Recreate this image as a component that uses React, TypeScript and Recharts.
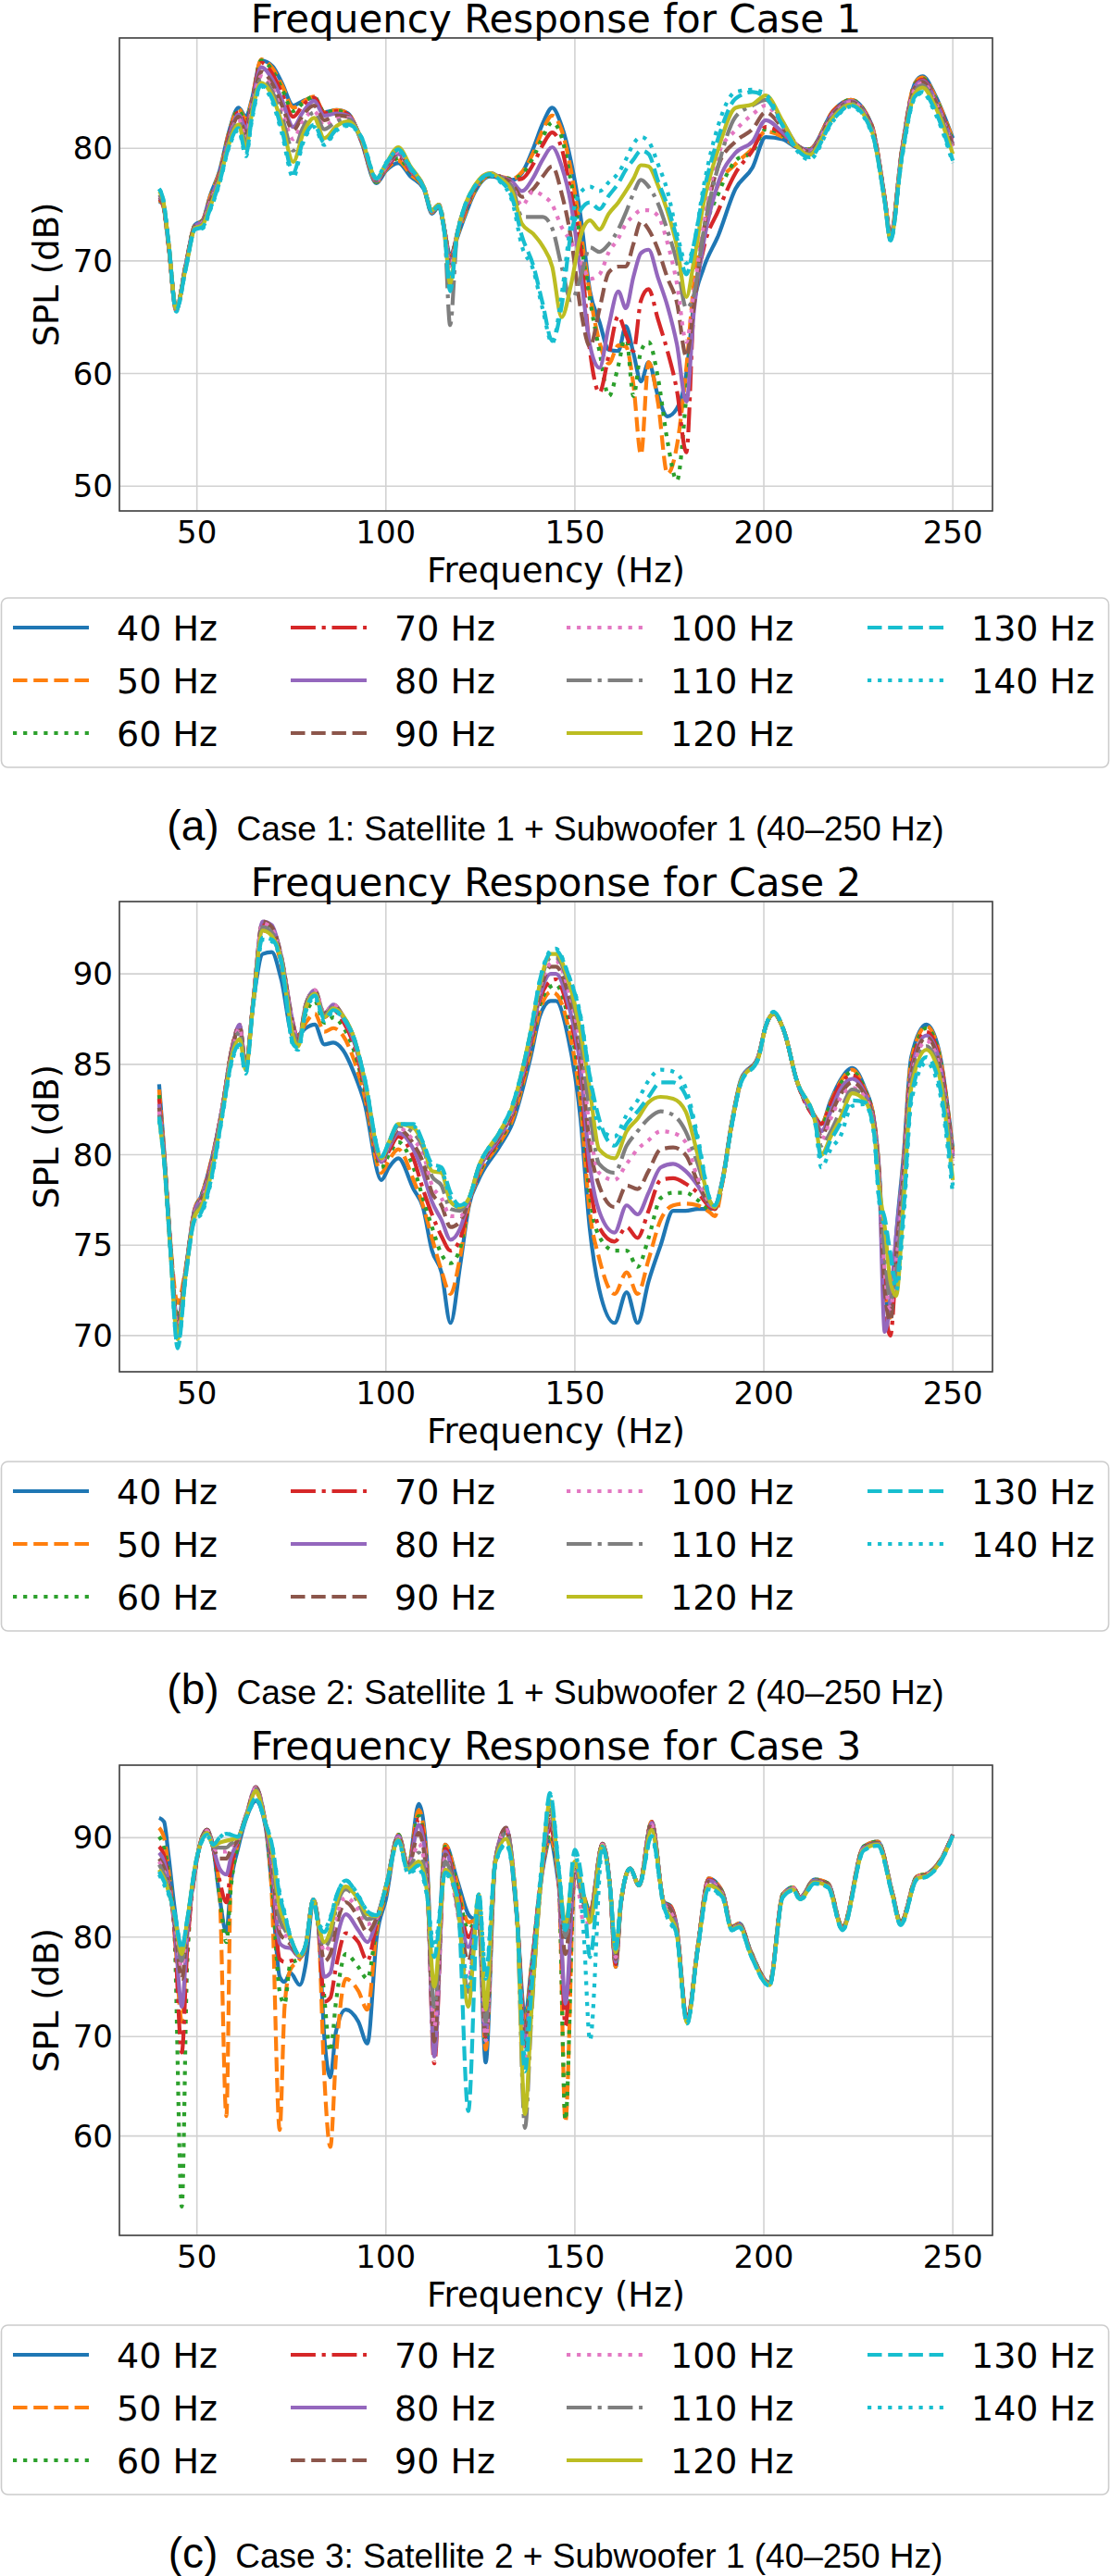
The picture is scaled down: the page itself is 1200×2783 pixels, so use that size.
import React from "react";
import { LineChart, Line, XAxis, YAxis, CartesianGrid } from "recharts";

// three stacked frequency-response plots (matplotlib look), one per loudspeaker case

const FONT = "DejaVu Sans";
const CAPTION_FONT = "Liberation Sans";

const seriesNames = ["40 Hz", "50 Hz", "60 Hz", "70 Hz", "80 Hz", "90 Hz", "100 Hz", "110 Hz", "120 Hz", "130 Hz", "140 Hz"];
const seriesColors = ["#1f77b4", "#ff7f0e", "#2ca02c", "#d62728", "#9467bd", "#8c564b", "#e377c2", "#7f7f7f", "#bcbd22", "#17becf", "#17becf"];
// solid, dashed, dotted, dashdot ... (matplotlib cycle, scaled by line width)
const seriesDashes = [undefined, "15.5 6.7", "4.2 6.9", "26.9 6.7 4.2 6.7", undefined, "15.5 6.7", "4.2 6.9", "26.9 6.7 4.2 6.7", undefined, "15.5 6.7", "4.2 6.9"];

const xTicks = [50, 100, 150, 200, 250];
const yTicksCase1 = [50, 60, 70, 80];
const yTicksCase2 = [70, 75, 80, 85, 90];
const yTicksCase3 = [60, 70, 80, 90];

/* ---------- Case 1 ---------- */
const freqCase1 = [40, 41, 42.5, 44.5, 47, 49.5, 51.5, 53.5, 56, 58.5, 61, 63, 64.5, 67, 70, 72.5, 75.5, 78, 81, 83.7, 87, 90, 93.5, 97.5, 100, 103.3, 106.5, 110, 112.2, 114, 115.5, 117, 118.8, 120.5, 123.5, 127.5, 130, 133.5, 136, 139, 141.5, 144, 146.5, 149, 151.5, 154, 156.5, 159, 161.5, 163.5, 165.5, 167.5, 169.5, 172, 174.5, 177, 179.5, 181.5, 184, 188, 192.5, 197, 200.5, 205, 208.5, 212, 218.5, 223, 228.5, 232, 233.5, 236.5, 240, 242, 245.5, 250];

const case1Hz40 = [75.3, 75.0, 71.3, 65.6, 69.6, 73.2, 73.6, 75.8, 78.0, 81.5, 83.6, 82.8, 84.3, 87.8, 87.3, 85.8, 83.8, 84.2, 84.5, 83.2, 83.4, 83.1, 80.6, 76.9, 78.0, 78.7, 77.5, 76.4, 74.2, 74.8, 72.7, 70.5, 72.0, 73.6, 76.1, 77.5, 77.4, 77.2, 77.8, 80.0, 82.2, 83.6, 82.0, 78.8, 74.0, 67.3, 64.6, 62.1, 62.0, 64.2, 61.8, 59.3, 61.0, 58.0, 56.2, 56.9, 60.0, 66.2, 69.3, 72.3, 76.4, 78.3, 81.0, 80.8, 80.1, 79.9, 83.4, 84.3, 82.1, 75.6, 72.3, 79.8, 85.8, 86.4, 84.6, 80.9];
const case1Hz50 = [75.4, 75.0, 71.3, 65.6, 69.6, 73.2, 73.6, 75.7, 77.9, 81.4, 83.5, 82.6, 84.2, 87.9, 87.1, 85.6, 83.6, 84.1, 84.6, 83.2, 83.4, 83.1, 80.7, 77.0, 78.1, 78.9, 77.7, 76.5, 74.3, 74.9, 72.8, 70.3, 72.1, 73.8, 76.2, 77.6, 77.5, 77.3, 77.9, 79.6, 81.6, 82.9, 81.6, 78.0, 72.7, 67.0, 62.8, 60.9, 62.5, 62.4, 59.0, 52.8, 61.0, 57.4, 51.1, 53.6, 60.5, 68.0, 72.5, 76.8, 78.6, 80.0, 81.5, 81.0, 80.2, 79.9, 83.4, 84.3, 82.1, 75.6, 72.3, 79.8, 85.8, 86.3, 84.5, 80.8];
const case1Hz60 = [75.5, 75.1, 71.4, 65.7, 69.6, 73.2, 73.6, 75.6, 77.8, 81.3, 83.4, 82.4, 84.1, 87.8, 86.9, 85.3, 83.3, 84.0, 84.6, 83.2, 83.3, 83.0, 80.7, 77.0, 78.2, 79.1, 77.9, 76.5, 74.3, 74.9, 72.8, 70.2, 72.2, 74.0, 76.3, 77.6, 77.5, 77.3, 77.7, 79.2, 81.0, 82.3, 81.0, 77.0, 71.8, 66.5, 62.0, 58.0, 60.7, 63.5, 58.0, 62.0, 62.8, 59.6, 54.0, 50.5, 58.0, 66.0, 72.0, 76.0, 78.9, 79.7, 81.7, 81.2, 80.2, 79.9, 83.3, 84.3, 82.0, 75.5, 72.2, 79.7, 85.7, 86.2, 84.4, 80.6];
const case1Hz70 = [75.5, 75.1, 71.4, 65.7, 69.5, 73.1, 73.5, 75.5, 77.7, 81.2, 83.2, 82.1, 84.0, 87.6, 86.6, 84.9, 82.8, 83.8, 84.5, 83.1, 83.3, 83.0, 80.7, 77.1, 78.2, 79.3, 78.0, 76.6, 74.4, 74.9, 72.8, 70.0, 72.3, 74.1, 76.4, 77.7, 77.5, 77.2, 77.3, 78.6, 80.3, 81.4, 80.0, 76.0, 71.2, 62.0, 58.3, 61.7, 65.1, 63.5, 62.0, 66.5, 67.5, 64.8, 62.0, 58.5, 53.0, 66.0, 71.0, 74.5, 77.8, 79.8, 81.9, 81.3, 80.3, 79.8, 83.3, 84.2, 82.0, 75.5, 72.2, 79.7, 85.6, 86.1, 84.3, 80.5];
const case1Hz80 = [75.6, 75.2, 71.5, 65.7, 69.5, 73.1, 73.5, 75.4, 77.6, 81.0, 83.0, 81.7, 83.8, 87.2, 86.1, 84.3, 81.9, 83.2, 84.2, 82.9, 83.1, 82.9, 80.8, 77.1, 78.3, 79.5, 78.1, 76.6, 74.4, 74.9, 72.8, 69.8, 72.3, 74.2, 76.5, 77.7, 77.5, 77.0, 76.2, 77.4, 79.0, 80.1, 78.4, 75.0, 69.0, 62.5, 60.5, 64.3, 67.3, 65.8, 68.6, 70.7, 71.0, 68.5, 66.0, 62.6, 57.5, 65.5, 71.5, 77.0, 79.6, 80.6, 82.5, 81.4, 80.3, 79.8, 83.2, 84.2, 81.9, 75.5, 72.1, 79.6, 85.5, 86.0, 84.2, 80.4];
const case1Hz90 = [75.7, 75.2, 71.5, 65.8, 69.5, 73.1, 73.4, 75.3, 77.5, 80.9, 82.8, 81.3, 83.6, 86.8, 85.7, 83.8, 81.6, 82.9, 83.8, 82.5, 82.9, 82.8, 80.8, 77.2, 78.4, 79.6, 78.2, 76.6, 74.5, 75.0, 72.8, 69.6, 72.4, 74.3, 76.5, 77.7, 77.5, 76.8, 75.7, 76.4, 77.5, 78.4, 76.0, 72.0, 65.8, 62.4, 65.7, 69.0, 69.5, 69.5, 71.5, 73.5, 72.8, 71.0, 68.5, 66.3, 61.5, 66.0, 72.5, 78.5, 80.6, 81.7, 83.2, 81.8, 80.4, 79.7, 83.1, 84.1, 81.9, 75.4, 72.0, 79.5, 85.4, 85.9, 84.1, 80.2];
const case1Hz100 = [75.8, 75.3, 71.5, 65.8, 69.4, 73.0, 73.4, 75.2, 77.4, 80.7, 82.6, 80.9, 83.4, 86.4, 85.3, 83.3, 80.8, 82.4, 83.3, 82.0, 82.6, 82.7, 80.8, 77.2, 78.4, 79.7, 78.3, 76.6, 74.5, 75.0, 72.8, 69.3, 72.4, 74.4, 76.6, 77.8, 77.5, 76.6, 74.9, 76.2, 75.8, 75.0, 73.0, 71.7, 70.0, 68.4, 68.8, 70.8, 72.0, 73.3, 74.0, 74.5, 74.5, 74.0, 71.6, 68.0, 62.8, 67.3, 73.0, 79.5, 81.6, 83.0, 83.8, 82.0, 80.4, 79.6, 83.0, 84.1, 81.8, 75.4, 72.0, 79.5, 85.3, 85.8, 84.0, 80.0];
const case1Hz110 = [75.9, 75.3, 71.6, 65.8, 69.4, 73.0, 73.3, 75.0, 77.3, 80.6, 82.4, 80.5, 83.2, 86.1, 85.0, 82.8, 79.8, 81.8, 83.2, 81.7, 82.4, 82.6, 80.9, 77.2, 78.5, 79.9, 78.3, 76.6, 74.5, 75.0, 72.7, 64.3, 72.2, 74.4, 76.6, 77.8, 77.5, 76.5, 73.9, 73.9, 73.9, 72.9, 69.5, 66.5, 68.5, 71.2, 70.8, 71.5, 72.8, 74.3, 76.0, 77.2, 76.6, 75.1, 72.7, 69.9, 65.8, 67.0, 72.5, 78.5, 82.8, 83.8, 84.3, 82.3, 80.4, 79.5, 82.9, 84.0, 81.7, 75.3, 71.9, 79.4, 85.1, 85.6, 83.8, 79.8];
const case1Hz120 = [76.2, 75.5, 71.6, 65.8, 69.3, 72.9, 73.2, 74.8, 77.2, 80.4, 82.1, 80.0, 83.0, 85.8, 84.6, 82.2, 78.8, 81.2, 82.7, 80.9, 82.0, 82.4, 80.9, 77.3, 78.6, 80.1, 78.4, 76.6, 74.5, 75.0, 72.6, 68.0, 72.3, 74.5, 76.7, 77.8, 77.4, 76.1, 73.3, 72.4, 71.3, 69.5, 65.0, 67.9, 72.2, 73.6, 72.8, 74.2, 75.2, 76.2, 77.3, 78.5, 78.4, 76.7, 74.4, 71.3, 66.8, 70.0, 75.0, 80.0, 83.6, 83.9, 84.7, 82.4, 80.3, 79.4, 82.8, 83.9, 81.6, 75.3, 71.9, 79.3, 84.9, 85.4, 83.6, 79.5];
const case1Hz130 = [76.4, 75.6, 71.7, 65.6, 69.2, 72.8, 73.0, 74.6, 77.0, 80.2, 81.8, 79.5, 82.6, 85.6, 84.3, 81.6, 77.8, 80.6, 82.1, 80.5, 81.7, 82.1, 81.0, 77.3, 78.6, 79.9, 78.3, 76.5, 74.4, 74.9, 72.5, 67.3, 72.2, 74.5, 76.6, 77.7, 77.2, 75.5, 72.2, 69.6, 66.2, 62.9, 66.0, 72.5, 74.5, 75.2, 74.6, 75.8, 76.9, 78.1, 79.0, 79.8, 79.5, 77.1, 74.9, 72.0, 68.8, 71.5, 76.0, 81.0, 84.4, 85.0, 84.5, 82.0, 80.0, 79.2, 82.6, 83.8, 81.5, 75.2, 71.8, 79.2, 84.6, 85.0, 83.2, 78.9];
const case1Hz140 = [76.4, 75.6, 71.7, 65.5, 69.2, 72.8, 72.9, 74.5, 76.9, 80.1, 81.6, 79.3, 82.4, 85.5, 84.1, 81.3, 77.4, 80.4, 81.9, 80.3, 81.6, 82.0, 81.0, 77.4, 78.7, 79.8, 78.2, 76.5, 74.4, 74.9, 72.5, 68.5, 72.3, 74.5, 76.6, 77.6, 77.1, 75.2, 71.3, 69.2, 65.7, 62.7, 67.0, 73.4, 76.1, 76.6, 76.2, 77.0, 77.8, 79.0, 80.4, 81.0, 80.6, 78.6, 76.2, 72.5, 69.8, 71.5, 76.5, 82.1, 85.0, 85.2, 84.8, 82.0, 79.9, 79.0, 82.5, 83.7, 81.4, 75.2, 71.8, 79.0, 84.5, 84.9, 83.0, 78.7];

/* ---------- Case 2 ---------- */
const freqCase2 = [40, 41.3, 42.9, 44.9, 47, 49.4, 51.1, 53.5, 56.8, 59.2, 61.3, 62.9, 64.9, 67.4, 69.8, 72.3, 75.5, 76.8, 78.8, 81.2, 83.7, 86.1, 88.6, 91.8, 94.3, 98.8, 100.8, 103.3, 107.3, 109.8, 112.2, 114.7, 117.1, 119.6, 122, 124.5, 130.2, 133.4, 138.3, 140.8, 143.6, 145, 148.2, 151.5, 153.9, 156.4, 160.5, 163.7, 166.6, 169.5, 172.7, 176, 179.3, 182.5, 185.8, 187, 189.1, 191.5, 194, 198.5, 200.5, 202.6, 205.4, 208.7, 213.6, 215.2, 217.7, 220.2, 223.4, 226.7, 229.1, 230.5, 232, 233.5, 235, 237, 239, 243, 246.3, 250];

const case2Hz40 = [83.9, 80.3, 75.3, 70.8, 73.6, 77.0, 77.7, 79.4, 82.7, 85.8, 87.0, 84.9, 88.4, 91.1, 91.2, 89.7, 86.5, 86.6, 87.0, 87.2, 86.1, 86.2, 85.8, 84.4, 82.9, 78.6, 79.3, 79.8, 78.1, 77.1, 74.7, 73.5, 70.7, 73.8, 77.2, 78.6, 80.5, 81.7, 85.4, 87.7, 88.5, 88.5, 86.5, 82.0, 76.0, 72.6, 70.7, 72.4, 70.7, 73.0, 75.0, 76.9, 76.9, 77.0, 77.0, 77.1, 78.7, 81.8, 84.2, 85.4, 87.1, 87.8, 86.8, 84.1, 82.1, 81.7, 83.0, 84.1, 84.8, 83.7, 82.0, 79.2, 73.0, 71.0, 75.5, 80.0, 85.4, 87.2, 85.8, 80.3];
const case2Hz50 = [83.6, 80.2, 75.4, 71.8, 73.7, 77.0, 77.7, 79.4, 82.7, 85.8, 87.1, 84.9, 88.5, 92.4, 92.2, 90.5, 86.9, 86.6, 87.3, 87.8, 86.8, 87.0, 86.6, 85.1, 83.3, 79.0, 79.7, 80.3, 78.6, 77.2, 75.4, 73.6, 72.3, 74.3, 77.3, 78.8, 80.7, 81.9, 85.7, 88.0, 89.0, 88.9, 87.1, 82.8, 76.9, 74.3, 72.3, 73.5, 72.3, 74.2, 76.4, 77.2, 77.3, 77.2, 76.8, 76.6, 78.5, 81.7, 84.1, 85.4, 87.1, 87.8, 86.8, 84.1, 82.1, 81.7, 82.9, 84.0, 84.7, 83.6, 82.0, 79.1, 72.5, 71.0, 75.0, 79.8, 85.2, 87.1, 85.7, 80.2];
const case2Hz60 = [83.3, 80.1, 75.3, 71.0, 73.6, 76.9, 77.7, 79.3, 82.7, 85.8, 87.1, 84.9, 88.5, 92.7, 92.5, 90.8, 87.1, 86.4, 87.8, 88.5, 87.3, 87.6, 87.1, 85.6, 83.6, 79.3, 80.0, 80.7, 79.3, 77.6, 76.0, 74.5, 74.0, 74.8, 77.4, 78.9, 80.8, 82.1, 85.9, 88.3, 89.3, 89.4, 87.6, 83.5, 77.8, 75.5, 74.7, 74.7, 73.8, 75.4, 77.6, 77.9, 77.9, 77.5, 77.0, 77.0, 78.6, 81.7, 84.1, 85.4, 87.1, 87.8, 86.8, 84.1, 82.0, 81.6, 82.8, 83.9, 84.6, 83.6, 81.9, 79.0, 72.5, 71.2, 74.5, 79.5, 85.0, 87.0, 85.6, 80.1];
const case2Hz70 = [83.1, 80.0, 75.2, 70.6, 73.5, 76.9, 77.6, 79.3, 82.7, 85.8, 87.2, 84.9, 88.5, 92.8, 92.6, 90.9, 87.2, 86.3, 88.1, 88.8, 87.6, 88.0, 87.4, 85.9, 83.8, 79.5, 80.2, 81.0, 79.8, 78.1, 76.7, 75.5, 74.7, 75.3, 77.4, 79.0, 80.9, 82.2, 86.1, 88.6, 89.6, 89.7, 88.0, 84.2, 78.6, 76.0, 75.2, 76.0, 75.4, 76.9, 78.6, 78.7, 78.4, 77.9, 77.1, 77.0, 78.6, 81.7, 84.1, 85.4, 87.1, 87.8, 86.8, 84.1, 82.0, 81.7, 82.8, 83.9, 84.4, 83.5, 81.9, 78.9, 72.0, 70.0, 74.0, 79.3, 84.8, 86.8, 85.5, 80.0];
const case2Hz80 = [82.8, 80.0, 75.2, 70.5, 73.5, 76.9, 77.6, 79.2, 82.7, 85.7, 87.2, 84.9, 88.5, 92.9, 92.7, 91.0, 87.2, 86.2, 88.3, 89.1, 87.8, 88.3, 87.6, 86.1, 84.0, 79.6, 80.4, 81.2, 80.3, 79.0, 77.4, 76.4, 75.3, 75.9, 77.5, 79.1, 81.0, 82.3, 86.3, 88.8, 90.0, 90.0, 88.4, 84.8, 79.5, 76.9, 75.7, 77.2, 76.7, 77.9, 79.3, 79.5, 79.1, 78.3, 77.2, 77.1, 78.6, 81.7, 84.1, 85.4, 87.1, 87.8, 86.8, 84.1, 82.0, 81.3, 82.4, 83.6, 84.2, 83.4, 81.8, 78.8, 70.2, 72.0, 75.5, 79.5, 84.6, 86.6, 85.3, 79.9];
const case2Hz90 = [82.6, 79.9, 75.2, 70.4, 73.5, 76.8, 77.5, 79.1, 82.6, 85.7, 87.1, 84.9, 88.5, 92.9, 92.6, 91.0, 87.1, 86.2, 88.3, 89.1, 87.8, 88.3, 87.7, 86.2, 84.1, 79.7, 80.5, 81.4, 80.6, 79.6, 77.9, 77.2, 76.0, 76.3, 77.5, 79.2, 81.1, 82.4, 86.5, 89.0, 90.4, 90.4, 88.9, 85.4, 80.6, 78.3, 77.1, 78.3, 78.1, 79.1, 80.3, 80.4, 80.0, 78.5, 77.2, 77.1, 78.6, 81.7, 84.1, 85.4, 87.1, 87.8, 86.8, 84.1, 82.0, 81.0, 82.2, 83.3, 84.0, 83.3, 81.7, 78.7, 72.5, 70.8, 74.5, 79.0, 84.4, 86.5, 85.1, 79.8];
const case2Hz100 = [82.4, 79.8, 75.1, 70.3, 73.4, 76.8, 77.4, 79.0, 82.6, 85.6, 87.0, 84.8, 88.5, 92.8, 92.5, 90.9, 87.0, 86.1, 88.2, 89.1, 87.8, 88.3, 87.7, 86.3, 84.2, 79.7, 80.6, 81.5, 80.8, 80.1, 78.3, 77.6, 76.6, 76.6, 77.5, 79.2, 81.2, 82.5, 86.6, 89.2, 90.6, 90.7, 89.2, 85.9, 81.5, 79.0, 78.6, 79.5, 80.3, 80.8, 81.3, 81.2, 80.7, 78.7, 77.3, 77.1, 78.6, 81.7, 84.1, 85.4, 87.1, 87.8, 86.8, 84.1, 81.9, 80.8, 82.0, 83.1, 83.7, 83.2, 81.6, 78.6, 73.5, 71.5, 74.0, 78.6, 84.2, 86.3, 85.0, 79.7];
const case2Hz110 = [82.2, 79.8, 75.1, 70.1, 73.4, 76.7, 77.3, 78.9, 82.5, 85.5, 86.8, 84.8, 88.4, 92.6, 92.3, 90.9, 86.8, 86.1, 88.2, 89.0, 87.7, 88.2, 87.7, 86.3, 84.2, 79.8, 80.6, 81.6, 81.2, 80.4, 78.8, 78.3, 77.0, 76.9, 77.6, 79.3, 81.2, 82.6, 86.7, 89.4, 90.9, 90.9, 89.5, 86.3, 82.4, 79.5, 79.0, 80.5, 81.3, 82.0, 82.4, 82.2, 81.3, 79.5, 77.4, 77.1, 78.6, 81.7, 84.1, 85.4, 87.1, 87.8, 86.8, 84.1, 81.9, 80.5, 81.3, 82.4, 83.6, 83.1, 81.5, 78.4, 74.5, 72.0, 73.5, 78.2, 84.0, 86.0, 84.7, 79.4];
const case2Hz120 = [82.0, 79.7, 75.0, 69.8, 73.3, 76.6, 77.1, 78.7, 82.4, 85.4, 86.4, 84.7, 88.4, 92.4, 92.1, 90.8, 86.5, 86.0, 88.1, 88.9, 87.6, 88.1, 87.7, 86.3, 84.2, 79.8, 80.7, 81.7, 81.5, 80.6, 79.1, 79.0, 77.4, 77.1, 77.6, 79.3, 81.3, 82.6, 86.8, 89.5, 91.1, 91.1, 89.7, 86.8, 83.7, 80.3, 79.8, 81.3, 82.0, 82.9, 83.2, 83.1, 82.4, 80.0, 77.4, 77.1, 78.6, 81.7, 84.1, 85.3, 87.1, 87.8, 86.8, 84.1, 81.8, 80.0, 81.0, 82.0, 83.4, 83.0, 81.4, 78.2, 76.0, 73.0, 72.2, 77.5, 83.7, 85.8, 84.5, 78.6];
const case2Hz130 = [82.1, 79.7, 75.0, 69.3, 73.2, 76.4, 76.8, 78.4, 82.3, 85.2, 86.1, 84.5, 88.3, 92.0, 91.9, 90.7, 86.1, 85.9, 88.0, 88.8, 87.5, 88.0, 87.6, 86.3, 84.3, 79.9, 80.7, 81.7, 81.7, 80.7, 79.5, 79.3, 77.9, 77.2, 77.6, 79.3, 81.3, 82.7, 86.8, 89.7, 91.2, 91.3, 90.0, 87.6, 84.4, 82.0, 80.5, 81.7, 82.4, 83.2, 84.0, 84.0, 83.3, 80.8, 77.5, 77.2, 78.6, 81.6, 84.0, 85.3, 87.1, 87.9, 86.8, 84.1, 81.8, 79.8, 80.8, 81.7, 83.0, 82.9, 81.3, 77.6, 76.5, 74.5, 73.0, 77.0, 83.2, 85.4, 84.0, 78.3];
const case2Hz140 = [81.9, 79.6, 74.9, 69.4, 73.2, 76.4, 76.7, 78.3, 82.2, 85.1, 86.0, 84.5, 88.3, 91.9, 91.8, 90.6, 86.0, 85.8, 87.9, 88.7, 87.4, 87.9, 87.6, 86.3, 84.3, 79.9, 80.7, 81.7, 81.6, 80.6, 79.3, 79.1, 77.6, 77.1, 77.6, 79.3, 81.3, 82.7, 86.8, 89.7, 91.3, 91.4, 90.0, 87.7, 84.4, 81.5, 81.0, 82.2, 83.0, 84.1, 84.7, 84.6, 83.7, 81.0, 77.5, 77.2, 78.6, 81.6, 84.0, 85.3, 87.1, 87.9, 86.8, 84.1, 81.7, 79.3, 80.3, 81.0, 82.7, 82.8, 81.2, 77.4, 76.0, 74.5, 72.5, 76.5, 82.9, 85.1, 83.7, 77.8];

/* ---------- Case 3 ---------- */
const freqCase3 = [40, 41.3, 42.5, 44.1, 46, 47.4, 49.8, 52.7, 54.3, 56, 57.8, 59, 60.8, 63.3, 65.6, 68.2, 69.8, 71.9, 73.2, 74.7, 77.2, 78.8, 80.8, 82.1, 83.7, 85.3, 86.8, 89.4, 92.7, 95.1, 97.6, 100, 103.3, 105.9, 108.7, 110.8, 112.8, 115.7, 118.9, 121.8, 124.6, 126.4, 128.9, 131.8, 134.7, 136.8, 138.5, 141.8, 143.4, 145.8, 147.5, 150, 152.4, 154, 157.3, 159.3, 160.8, 162.2, 164.6, 167, 170.3, 173.6, 175.2, 176.8, 179.7, 182.5, 185.4, 189.1, 191.5, 193.5, 196.5, 201.5, 205, 207.8, 209.6, 213.4, 217, 220.8, 226.4, 230.2, 234, 236.2, 240.5, 243.3, 247, 250];

const case3Hz40 = [92.0, 91.6, 88.2, 82.9, 78.5, 81.4, 87.6, 90.8, 89.0, 84.0, 80.5, 85.5, 88.8, 92.2, 93.7, 91.0, 85.1, 76.0, 75.5, 76.4, 75.2, 77.3, 83.6, 81.4, 70.0, 65.9, 70.5, 72.7, 71.5, 69.3, 80.1, 83.8, 90.3, 87.2, 93.4, 88.2, 72.0, 89.3, 85.7, 82.3, 81.4, 67.4, 87.4, 90.5, 81.8, 72.0, 77.0, 87.5, 89.7, 85.1, 80.0, 86.6, 84.1, 82.6, 89.4, 85.1, 77.0, 83.4, 86.9, 85.2, 91.6, 83.5, 83.2, 81.4, 71.8, 79.0, 85.9, 84.5, 81.0, 81.4, 78.6, 75.4, 84.3, 85.0, 84.0, 85.8, 85.4, 81.0, 89.1, 89.6, 84.5, 81.5, 86.1, 86.4, 87.9, 90.3];
const case3Hz50 = [91.0, 90.0, 86.8, 80.5, 71.5, 79.5, 87.4, 90.8, 89.0, 84.5, 62.0, 86.0, 89.3, 92.4, 94.5, 91.2, 84.5, 60.6, 73.0, 76.7, 77.8, 79.0, 83.8, 81.3, 66.0, 58.9, 68.0, 75.8, 74.6, 72.7, 80.8, 84.3, 90.3, 87.2, 92.8, 87.8, 70.5, 89.3, 85.4, 81.5, 81.8, 68.7, 87.5, 90.7, 81.9, 71.0, 77.0, 87.7, 90.0, 85.1, 61.4, 86.6, 84.1, 82.6, 89.4, 85.1, 77.0, 83.4, 86.9, 85.2, 91.6, 83.5, 83.2, 81.4, 71.8, 79.0, 85.9, 84.5, 81.0, 81.4, 78.6, 75.4, 84.3, 85.0, 84.0, 85.8, 85.4, 81.0, 89.1, 89.6, 84.5, 81.5, 86.1, 86.4, 87.9, 90.3];
const case3Hz60 = [90.1, 89.0, 86.5, 80.0, 52.9, 77.0, 87.3, 90.8, 89.0, 84.2, 79.5, 85.0, 89.3, 92.5, 94.8, 91.2, 85.8, 74.5, 73.3, 77.3, 77.9, 79.1, 83.8, 81.4, 74.0, 68.5, 73.5, 78.3, 77.0, 75.8, 81.2, 84.6, 90.3, 87.2, 92.2, 87.4, 69.0, 89.1, 85.0, 80.8, 82.0, 69.5, 87.5, 90.8, 82.0, 70.5, 76.8, 87.8, 90.4, 85.1, 61.6, 86.6, 84.0, 82.5, 89.4, 85.1, 77.2, 83.4, 86.9, 85.2, 91.6, 83.5, 83.1, 81.3, 71.7, 79.0, 85.8, 84.5, 81.0, 81.4, 78.6, 75.4, 84.3, 85.0, 84.0, 85.8, 85.4, 81.0, 89.1, 89.6, 84.5, 81.5, 86.1, 86.4, 87.9, 90.3];
const case3Hz70 = [89.1, 88.2, 85.8, 80.5, 68.4, 78.5, 87.3, 90.8, 89.0, 85.7, 83.5, 87.0, 89.5, 92.5, 95.0, 91.3, 86.6, 77.8, 77.5, 77.6, 78.0, 79.2, 83.8, 81.4, 73.5, 73.9, 77.0, 80.4, 79.5, 77.6, 81.5, 84.8, 90.2, 87.1, 91.9, 87.0, 67.3, 88.9, 84.5, 80.0, 82.2, 70.0, 87.6, 90.9, 82.0, 70.0, 76.5, 88.0, 91.0, 85.2, 71.1, 86.7, 83.8, 82.4, 89.4, 85.1, 77.3, 83.5, 86.9, 85.2, 91.6, 83.4, 83.1, 81.3, 71.7, 78.9, 85.8, 84.4, 81.0, 81.3, 78.5, 75.3, 84.2, 84.9, 84.0, 85.7, 85.3, 80.9, 89.0, 89.5, 84.4, 81.4, 86.0, 86.3, 87.9, 90.3];
const case3Hz80 = [88.5, 87.6, 85.5, 81.0, 73.0, 80.0, 87.4, 90.8, 89.0, 86.9, 86.3, 88.0, 89.7, 92.6, 95.1, 91.3, 87.2, 79.4, 79.0, 78.9, 78.0, 79.2, 83.8, 81.4, 76.0, 76.4, 79.5, 82.3, 80.7, 79.5, 81.8, 85.0, 90.2, 87.1, 91.3, 86.6, 68.0, 88.6, 84.0, 79.0, 82.4, 70.2, 87.6, 91.0, 82.0, 69.6, 76.0, 88.2, 91.6, 85.3, 73.3, 86.7, 83.6, 82.3, 89.4, 85.1, 77.5, 83.5, 86.9, 85.2, 91.5, 83.4, 83.0, 81.2, 71.6, 78.9, 85.7, 84.4, 80.9, 81.3, 78.5, 75.3, 84.2, 84.9, 84.0, 85.7, 85.3, 80.9, 89.0, 89.5, 84.4, 81.4, 86.0, 86.3, 87.9, 90.3];
const case3Hz90 = [87.9, 87.0, 85.2, 81.5, 75.8, 80.8, 87.5, 90.8, 89.1, 87.9, 87.9, 88.8, 89.8, 92.6, 95.1, 91.3, 87.8, 80.4, 79.8, 79.3, 78.0, 79.2, 83.8, 81.4, 77.6, 78.3, 81.0, 83.5, 82.0, 80.5, 82.0, 85.1, 90.1, 87.0, 90.5, 86.1, 69.5, 88.3, 83.5, 77.6, 82.6, 70.2, 87.6, 91.0, 82.0, 69.0, 75.5, 88.4, 92.2, 85.5, 78.3, 86.8, 83.3, 82.2, 89.4, 85.1, 77.8, 83.5, 86.9, 85.2, 91.5, 83.4, 82.9, 81.1, 71.6, 78.9, 85.6, 84.4, 80.9, 81.3, 78.5, 75.3, 84.2, 84.9, 83.9, 85.7, 85.3, 80.9, 89.0, 89.5, 84.4, 81.4, 86.0, 86.3, 87.9, 90.3];
const case3Hz100 = [87.6, 86.6, 84.9, 81.8, 77.0, 81.2, 87.5, 90.7, 89.1, 88.6, 88.6, 89.2, 89.8, 92.6, 95.0, 91.4, 88.2, 81.0, 80.3, 79.6, 78.1, 79.2, 83.8, 81.4, 78.5, 79.5, 82.0, 84.0, 82.8, 81.3, 82.0, 85.1, 90.0, 87.0, 89.4, 85.6, 71.0, 88.0, 82.6, 75.8, 82.8, 69.6, 87.6, 90.8, 82.0, 67.0, 73.5, 88.6, 92.8, 85.7, 80.1, 86.9, 81.4, 81.5, 89.3, 85.1, 78.0, 83.5, 86.9, 85.2, 91.3, 83.3, 82.6, 81.0, 71.5, 78.9, 85.5, 84.3, 80.9, 81.2, 78.4, 75.3, 84.2, 84.9, 83.9, 85.6, 85.2, 80.9, 88.9, 89.4, 84.4, 81.4, 86.0, 86.3, 87.8, 90.3];
const case3Hz110 = [87.3, 86.3, 84.8, 82.0, 77.6, 81.4, 87.6, 90.6, 89.1, 89.0, 89.0, 89.4, 89.9, 92.5, 94.9, 91.4, 88.6, 81.8, 80.8, 79.8, 78.1, 79.2, 83.8, 81.4, 79.0, 80.0, 82.8, 84.8, 83.5, 81.8, 82.1, 85.1, 89.9, 87.0, 88.5, 85.2, 73.0, 87.6, 83.0, 74.5, 83.0, 71.5, 87.6, 90.5, 82.0, 60.8, 72.0, 88.8, 93.2, 85.9, 80.1, 87.0, 83.0, 82.0, 89.3, 85.1, 78.3, 83.5, 86.9, 85.2, 91.1, 83.2, 82.3, 80.9, 71.5, 78.8, 85.3, 84.2, 80.8, 81.2, 78.4, 75.2, 84.1, 84.8, 83.9, 85.6, 85.2, 80.8, 88.9, 89.4, 84.3, 81.3, 85.9, 86.2, 87.8, 90.2];
const case3Hz120 = [86.8, 85.9, 84.6, 82.2, 78.3, 81.6, 87.7, 90.5, 89.2, 89.5, 89.7, 89.8, 90.0, 92.4, 94.7, 91.4, 88.9, 83.0, 81.5, 80.0, 78.1, 79.2, 83.8, 81.4, 79.5, 80.7, 83.3, 85.1, 83.8, 82.3, 82.1, 85.1, 89.8, 86.8, 87.6, 84.8, 75.0, 86.8, 83.6, 73.0, 84.3, 72.7, 87.5, 89.9, 82.0, 62.2, 72.5, 89.0, 93.7, 86.2, 81.4, 87.6, 84.0, 81.5, 89.2, 85.1, 78.5, 83.6, 86.9, 85.2, 90.8, 83.1, 82.0, 80.7, 71.4, 78.8, 85.2, 84.1, 80.8, 81.1, 78.3, 75.2, 84.1, 84.8, 83.8, 85.5, 85.1, 80.8, 88.8, 89.3, 84.3, 81.3, 85.9, 86.2, 87.8, 90.2];
const case3Hz130 = [86.6, 85.6, 84.5, 82.4, 78.9, 81.7, 87.7, 90.3, 89.3, 90.0, 90.4, 90.3, 90.1, 92.3, 94.0, 91.4, 89.4, 84.2, 82.3, 80.1, 78.2, 79.3, 83.8, 81.4, 80.5, 81.8, 84.0, 85.7, 84.1, 82.6, 82.2, 85.1, 89.7, 86.5, 87.2, 84.5, 78.0, 86.5, 84.1, 62.5, 84.5, 75.8, 87.3, 89.4, 82.0, 66.5, 74.5, 89.3, 94.5, 86.6, 80.7, 88.8, 84.1, 78.0, 89.1, 85.1, 78.8, 83.6, 86.9, 85.2, 90.2, 83.0, 81.6, 80.5, 71.3, 78.7, 84.9, 84.0, 80.7, 81.0, 78.2, 75.1, 84.0, 84.7, 83.8, 85.4, 85.0, 80.7, 88.7, 89.2, 84.2, 81.2, 85.8, 86.1, 87.7, 90.2];
const case3Hz140 = [86.3, 85.3, 84.3, 82.3, 78.9, 81.6, 87.6, 90.2, 89.3, 90.0, 90.5, 90.3, 90.1, 92.2, 93.8, 91.4, 89.4, 84.5, 82.5, 80.1, 78.2, 79.3, 83.7, 81.4, 80.8, 82.0, 84.0, 85.7, 84.2, 82.6, 82.1, 85.0, 89.6, 86.4, 86.9, 84.3, 79.0, 86.3, 84.1, 75.0, 84.3, 76.5, 87.2, 89.3, 82.0, 68.0, 76.0, 89.3, 94.3, 86.8, 80.5, 88.5, 80.0, 69.6, 89.0, 85.1, 78.9, 83.6, 86.9, 85.2, 90.0, 82.9, 81.4, 80.4, 71.3, 78.7, 84.8, 83.9, 80.7, 81.0, 78.2, 75.1, 84.0, 84.7, 83.7, 85.4, 85.0, 80.7, 88.7, 89.2, 84.2, 81.2, 85.8, 86.1, 87.7, 90.2];

const case1Series = [case1Hz40, case1Hz50, case1Hz60, case1Hz70, case1Hz80, case1Hz90, case1Hz100, case1Hz110, case1Hz120, case1Hz130, case1Hz140];
const case2Series = [case2Hz40, case2Hz50, case2Hz60, case2Hz70, case2Hz80, case2Hz90, case2Hz100, case2Hz110, case2Hz120, case2Hz130, case2Hz140];
const case3Series = [case3Hz40, case3Hz50, case3Hz60, case3Hz70, case3Hz80, case3Hz90, case3Hz100, case3Hz110, case3Hz120, case3Hz130, case3Hz140];

// one row per frequency, s0..s10 = SPL of each crossover setting
const buildRows = (freq: number[], series: number[][]) =>
  freq.map((f, i) => {
    const row: Record<string, number> = { f };
    series.forEach((s, k) => {
      row["s" + k] = s[i];
    });
    return row;
  });

const PLOT_LEFT = 129;
const PLOT_RIGHT = 1072;
const PLOT_TOP = 41;

const legendCols = [14, 314, 612, 937];
const legendRows = [678, 735, 792];

type PanelProps = {
  title: string;
  freq: number[];
  series: number[][];
  domain: [number, number];
  yTicks: number[];
  plotBottom: number;
  tag: string;
  caption: string;
};

function Panel({ title, freq, series, domain, yTicks, plotBottom, tag, caption }: PanelProps) {
  const rows = buildRows(freq, series);
  const midX = (PLOT_LEFT + PLOT_RIGHT) / 2;
  const tickStyle = { fontSize: 34, fill: "#000", fontFamily: FONT };

  return (
    <div style={{ position: "relative", width: 1200, height: 933 }}>
      <LineChart
        width={1200}
        height={plotBottom + 60}
        data={rows}
        margin={{ top: PLOT_TOP, right: 1200 - PLOT_RIGHT, bottom: 0, left: 0 }}
      >
        <CartesianGrid stroke="#d2d2d2" strokeWidth={1.6} />
        <XAxis
          dataKey="f"
          type="number"
          domain={[29.5, 260.5]}
          ticks={xTicks}
          allowDataOverflow
          height={60}
          axisLine={false}
          tickLine={false}
          tickSize={0}
          tickMargin={11}
          tick={tickStyle}
        />
        <YAxis
          type="number"
          domain={domain}
          ticks={yTicks}
          allowDataOverflow
          width={PLOT_LEFT}
          axisLine={false}
          tickLine={false}
          tickSize={0}
          tickMargin={7}
          tick={tickStyle}
        />
        {seriesNames.map((name, k) => (
          <Line
            key={name}
            name={name}
            type="monotone"
            dataKey={"s" + k}
            stroke={seriesColors[k]}
            strokeWidth={4.2}
            strokeDasharray={seriesDashes[k]}
            dot={false}
            activeDot={false}
            isAnimationActive={false}
          />
        ))}
      </LineChart>

      {/* frame, titles, legend box and caption */}
      <svg
        width={1200}
        height={933}
        style={{ position: "absolute", left: 0, top: 0, pointerEvents: "none", overflow: "visible" }}
        fontFamily={FONT}
      >
        <rect
          x={PLOT_LEFT}
          y={PLOT_TOP}
          width={PLOT_RIGHT - PLOT_LEFT}
          height={plotBottom - PLOT_TOP}
          fill="none"
          stroke="#444"
          strokeWidth={1.6}
        />
        <text x={midX} y={35} textAnchor="middle" fontSize={42}>
          {title}
        </text>
        <text x={midX} y={plotBottom + 77} textAnchor="middle" fontSize={37}>
          Frequency (Hz)
        </text>
        <text
          transform={`translate(63, ${(PLOT_TOP + plotBottom) / 2}) rotate(-90)`}
          textAnchor="middle"
          fontSize={37}
        >
          SPL (dB)
        </text>

        <rect x={1.5} y={646} width={1196} height={183} rx={7} fill="#fff" stroke="#cccccc" strokeWidth={1.6} />
        {seriesNames.map((name, k) => {
          const x = legendCols[Math.floor(k / 3)];
          const y = legendRows[k % 3];
          return (
            <g key={name}>
              <line
                x1={x}
                x2={x + 82}
                y1={y}
                y2={y}
                stroke={seriesColors[k]}
                strokeWidth={4.2}
                strokeDasharray={seriesDashes[k]}
              />
              <text x={x + 112} y={y + 14} fontSize={38}>
                {name}
              </text>
            </g>
          );
        })}

        <text x={600} y={908} textAnchor="middle" fontFamily={CAPTION_FONT}>
          <tspan fontSize={46}>{tag}</tspan>
          <tspan fontSize={37} dx={19}>
            {caption}
          </tspan>
        </text>
      </svg>
    </div>
  );
}

export default function App() {
  return (
    <div style={{ width: 1200, background: "#fff", fontFamily: FONT }}>
      <style>{"body{margin:0}"}</style>
      <Panel
        title="Frequency Response for Case 1"
        freq={freqCase1}
        series={case1Series}
        domain={[47.8, 89.8]}
        yTicks={yTicksCase1}
        plotBottom={552}
        tag="(a)"
        caption="Case 1: Satellite 1 + Subwoofer 1 (40–250 Hz)"
      />
      <Panel
        title="Frequency Response for Case 2"
        freq={freqCase2}
        series={case2Series}
        domain={[68.0, 94.0]}
        yTicks={yTicksCase2}
        plotBottom={549}
        tag="(b)"
        caption="Case 2: Satellite 1 + Subwoofer 2 (40–250 Hz)"
      />
      <Panel
        title="Frequency Response for Case 3"
        freq={freqCase3}
        series={case3Series}
        domain={[50.0, 97.3]}
        yTicks={yTicksCase3}
        plotBottom={549}
        tag="(c)"
        caption="Case 3: Satellite 2 + Subwoofer 1 (40–250 Hz)"
      />
    </div>
  );
}
